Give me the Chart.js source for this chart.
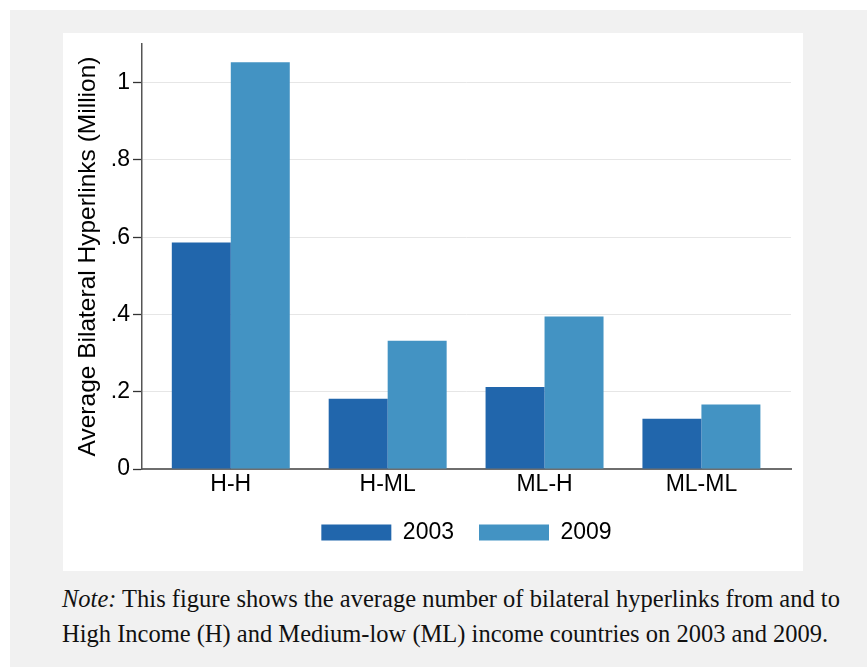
<!DOCTYPE html>
<html>
<head>
<meta charset="utf-8">
<script src="https://cdn.jsdelivr.net/npm/chart.js@4/dist/chart.umd.min.js"></script>
<style>
  html, body { margin: 0; padding: 0; background: #ffffff; }
  #panel {
    position: absolute; left: 10px; top: 10px; width: 857px; height: 657px;
    background: #f1f1f1;
  }
  #card {
    position: absolute; left: 53px; top: 23px; width: 740px; height: 538px;
    background: #ffffff;
  }
  #note {
    position: absolute; left: 52px; top: 571px; width: 805px;
    font-family: "Liberation Serif", "Times New Roman", serif;
    font-size: 24.5px; line-height: 35px; color: #111;
  }
</style>
</head>
<body>
<div id="panel">
  <div id="card"><canvas id="chart" width="740" height="538"></canvas></div>
  <div id="note"><i>Note:</i> This figure shows the average number of bilateral hyperlinks from and to<br>High Income (H) and Medium-low (ML) income countries on 2003 and 2009.</div>
</div>
<script>
const categories = ['H-H', 'H-ML', 'ML-H', 'ML-ML'];
const seriesNames = ['2003', '2009'];
const values2003 = [0.586, 0.182, 0.212, 0.130];
const values2009 = [1.053, 0.332, 0.395, 0.167];
const yTicks = [0, 0.2, 0.4, 0.6, 0.8, 1];

const FONT = '"Liberation Sans", Arial, Helvetica, sans-serif';

// Stata-style tick text: drop the leading zero (.2, .4 ...)
function fmtTick(v) {
  const s = String(+v.toFixed(1));
  return s.startsWith('0.') ? s.slice(1) : s;
}

new Chart(document.getElementById('chart').getContext('2d'), {
  type: 'bar',
  data: {
    labels: categories,
    datasets: [
      { label: seriesNames[0], data: values2003, backgroundColor: '#2166ac', borderWidth: 0 },
      { label: seriesNames[1], data: values2009, backgroundColor: '#4393c3', borderWidth: 0 }
    ]
  },
  options: {
    responsive: false,
    animation: false,
    devicePixelRatio: 1,
    categoryPercentage: 0.752,
    barPercentage: 1,
    layout: { padding: { top: 11, right: 12, bottom: 17, left: 0 } },
    plugins: {
      tooltip: { enabled: false },
      legend: {
        position: 'bottom',
        fullSize: false,
        labels: {
          boxWidth: 70,
          boxHeight: 16,
          padding: 25,
          color: '#000',
          font: { family: FONT, size: 23 }
        }
      }
    },
    scales: {
      x: {
        grid: { display: false, drawTicks: false },
        border: { display: true, color: '#6e6e6e', width: 2 },
        ticks: { color: '#000', padding: 2, font: { family: FONT, size: 23 } },
        // leave a gap between the y axis and the first group of bars
        afterBuildTicks: (s) => { s._startValue = -0.566; s._valueRange = 4.137; },
        afterFit: (s) => { s.height = 27; s.paddingLeft = 0; s.paddingRight = 0; }
      },
      y: {
        min: 0,
        max: 1.1,
        afterBuildTicks: (s) => { s.ticks = yTicks.map(v => ({ value: v })); },
        ticks: {
          color: '#000',
          padding: 3,
          includeBounds: false,
          font: { family: FONT, size: 23 },
          callback: (v) => fmtTick(v)
        },
        grid: { color: '#e6e6e6', lineWidth: 1, tickColor: '#333', tickLength: 9, tickWidth: 1.3 },
        border: { display: true, color: '#555', width: 1.5 },
        title: {
          display: true,
          text: 'Average Bilateral Hyperlinks (Million)',
          color: '#000',
          padding: { top: 11, bottom: 0 },
          font: { family: FONT, size: 24.5 }
        },
        afterFit: (s) => { s.width = 79; s.paddingTop = 0; s.paddingBottom = 0; }
      }
    }
  }
});
</script>
</body>
</html>
